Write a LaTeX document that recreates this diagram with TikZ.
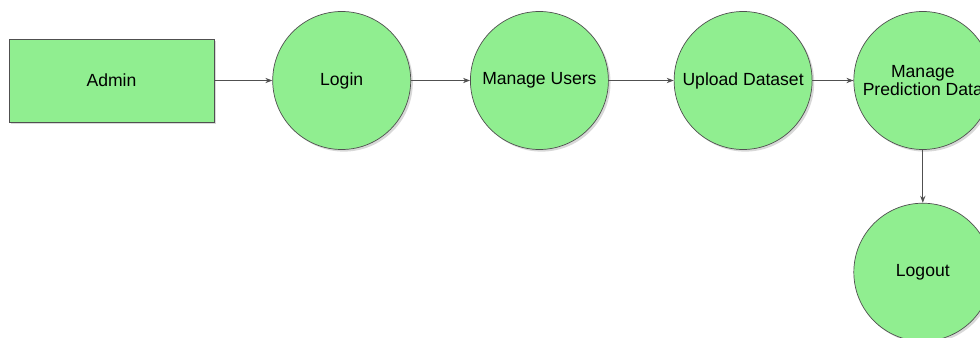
\documentclass[tikz,border=0pt]{standalone}
\usepackage{fontspec}
\setmainfont{Liberation Sans}
\usetikzlibrary{positioning, arrows.meta, shadows}

\definecolor{procgreen}{HTML}{90EE90}
\definecolor{edgegray}{HTML}{505050}

\begin{document}
\begin{tikzpicture}[
        every node/.style={draw=edgegray, fill=procgreen, align=center, inner sep=1pt,
          font=\fontsize{10}{10.5}\selectfont,
          drop shadow={shadow xshift=1.2pt, shadow yshift=-1.2pt, fill=black!30, opacity=0.5}},
        entity/.style={rectangle, minimum width=4.1cm, minimum height=1.66cm},
        proc/.style={circle, minimum size=2.76cm},
        arrow/.style={-{Stealth[length=4pt, width=3pt]}, draw=edgegray, line width=0.5pt}
      ]
    \useasboundingbox (0,0) rectangle (19.6,-6.76);

    \node[entity] (admin) at (2.23,-1.61) {Admin};
    \node[proc] (login) [right=1.16cm of admin] {Login};
    \node[proc] (users) [right=1.18cm of login] {Manage Users};
    \node[proc] (upload) [right=1.3cm of users] {Upload Dataset};
    \node[proc] (predict) [right=0.82cm of upload] {Manage\\Prediction Data};
    \node[proc] (logout) [below=1.06cm of predict] {Logout};

    \draw[arrow] (admin) -- (login);
    \draw[arrow] (login) -- (users);
    \draw[arrow] (users) -- (upload);
    \draw[arrow] (upload) -- (predict);
    \draw[arrow] (predict) -- (logout);

    \end{tikzpicture}
\end{document}
